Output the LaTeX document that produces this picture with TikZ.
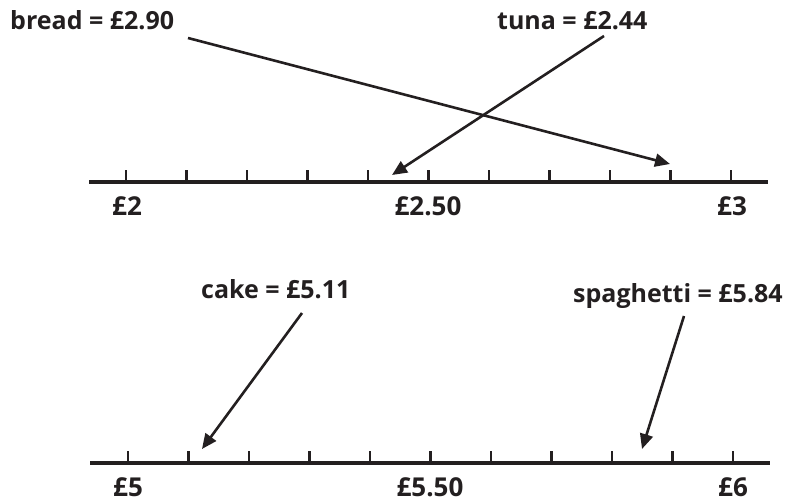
\documentclass[tikz,border=0pt]{standalone}
\usepackage{fontspec}
\setmainfont{Open Sans}
\usetikzlibrary{arrows.meta}
\definecolor{ink}{HTML}{231F20}
\tikzset{price/.style={font=\bfseries\fontsize{26}{30}\selectfont, text=ink,
        inner sep=0pt, anchor=base},
    item/.style={price, font=\bfseries\fontsize{25}{29}\selectfont,
        anchor=base west},
    numline/.style={line width=3.2pt, draw=ink},
    tick/.style={line width=2.5pt, draw=ink},
    pointer/.style={-{Triangle[length=15pt,width=13pt]}, line width=2.6pt,
        draw=ink, fill=ink}}

\begin{document}
\begin{tikzpicture}[x=1pt, y=-1pt]
    \useasboundingbox (0,0) rectangle (787,503);

    % top line, £2 to £3
    \coordinate (topL) at (89,182);
    \coordinate (topR) at (768,182);
    \draw[numline] (topL) -- (topR);
    \foreach \i in {0,...,10}
        \draw[tick] ({126+60.5*\i},182) -- ++(0,-12);
    \node[price] (two) at (127,215) {£2};
    \node[price] (twofifty) at (428,215) {£2.50};
    \node[price] (three) at (732,215) {£3};

    % bottom line, £5 to £6
    \coordinate (botL) at (90,463);
    \coordinate (botR) at (770,463);
    \draw[numline] (botL) -- (botR);
    \foreach \i in {0,...,10}
        \draw[tick] ({128+60.5*\i},463) -- ++(0,-12);
    \node[price] (five) at (128,496) {£5};
    \node[price] (fivefifty) at (430,496) {£5.50};
    \node[price] (six) at (733,496) {£6};

    % items and where they sit on the line
    \node[item] (bread) at (10,30) {bread = £2.90};
    \node[item] (tuna) at (497,30) {tuna = £2.44};
    \node[item] (cake) at (201,298) {cake = £5.11};
    \node[item] (spaghetti) at (573,302) {spaghetti = £5.84};

    \coordinate (breadpt) at (670,164);
    \coordinate (tunapt) at (392,175);
    \coordinate (cakept) at (202,449);
    \coordinate (spagpt) at (642,449);

    \draw[pointer] ([shift={(178,8)}]bread.base west) -- (breadpt);
    \draw[pointer] ([shift={(107,6)}]tuna.base west) -- (tunapt);
    \draw[pointer] ([shift={(101,15)}]cake.base west) -- (cakept);
    \draw[pointer] ([shift={(111,14)}]spaghetti.base west) -- (spagpt);
\end{tikzpicture}
\end{document}
